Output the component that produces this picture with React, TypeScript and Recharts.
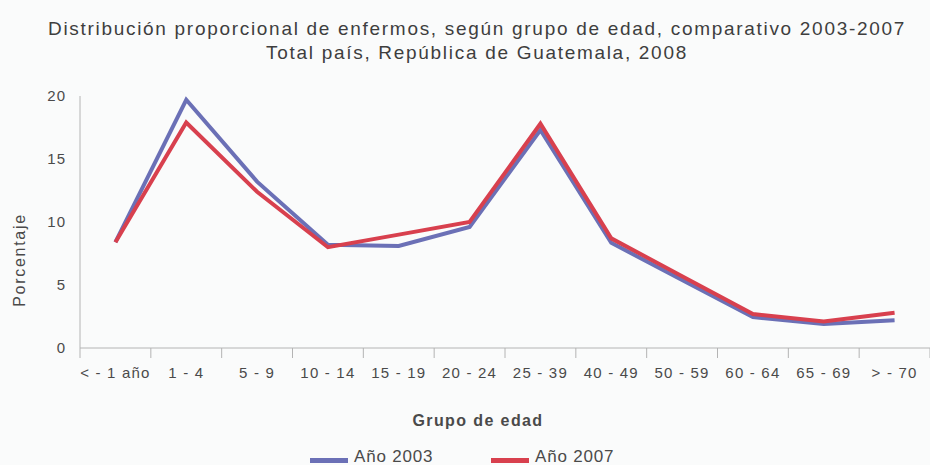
import { LineChart, Line, XAxis, YAxis } from 'recharts'

const ageGroups = [
  '< - 1 año', '1 - 4', '5 - 9', '10 - 14', '15 - 19', '20 - 24',
  '25 - 39', '40 - 49', '50 - 59', '60 - 64', '65 - 69', '> - 70',
]
const year2003 = [8.4, 19.7, 13.2, 8.2, 8.1, 9.6, 17.3, 8.35, 5.4, 2.45, 1.9, 2.2]
const year2007 = [8.4, 17.9, 12.4, 8.0, 9.0, 10.0, 17.8, 8.7, 5.7, 2.7, 2.1, 2.8]
const yTicks = [0, 5, 10, 15, 20]

const data = ageGroups.map((group, i) => ({
  group,
  y2003: year2003[i],
  y2007: year2007[i],
}))

const FONT = '"Liberation Sans", Arial, sans-serif'
const TEXT = '#4a4a4a'
const AXIS = '#b4b4b4'
const BLUE = '#6b70b6'
const RED = '#d8404e'

const W = 930
const H = 465
const PLOT_LEFT = 80

// tick marks sit between categories, labels in the middle
const AgeTick = (props: any) => {
  const { x, y, payload, index } = props
  const half = (W - PLOT_LEFT) / ageGroups.length / 2
  return (
    <g>
      <line x1={x - half} x2={x - half} y1={y} y2={y + 10} stroke={AXIS} />
      {index === ageGroups.length - 1 && (
        <line x1={x + half} x2={x + half} y1={y} y2={y + 10} stroke={AXIS} />
      )}
      <text
        x={x}
        y={y + 30}
        textAnchor="middle"
        fill={TEXT}
        fontSize={15}
        letterSpacing={1.2}
        fontFamily={FONT}
      >
        {payload.value}
      </text>
    </g>
  )
}

const LegendItem = ({ color, label, left }: { color: string; label: string; left: number }) => (
  <div style={{ position: 'absolute', left, top: 447, display: 'flex', alignItems: 'center', gap: 6 }}>
    <div style={{ width: 38, height: 5, backgroundColor: color, marginTop: 6 }} />
    <span style={{ fontSize: 17, color: TEXT, letterSpacing: 0.8 }}>{label}</span>
  </div>
)

export default function App() {
  return (
    <div style={{ position: 'absolute', left: 0, top: 0, width: W, height: H, background: '#fafbfb', fontFamily: FONT, overflow: 'hidden' }}>
      <div style={{
        position: 'absolute', left: 0, top: 17, width: 954, textAlign: 'center',
        fontSize: 19, lineHeight: '24px', color: '#3e3e3e', letterSpacing: 1.7,
      }}>
        Distribución proporcional de enfermos, según grupo de edad, comparativo 2003-2007
        <br />
        Total país, República de Guatemala, 2008
      </div>

      <div style={{
        position: 'absolute', left: 20, top: 260, width: 0, height: 0,
      }}>
        <div style={{
          position: 'absolute', left: -60, top: -10, width: 120, textAlign: 'center',
          transform: 'rotate(-90deg)', fontSize: 16, lineHeight: '20px',
          color: TEXT, letterSpacing: 1.7, whiteSpace: 'nowrap',
        }}>
          Porcentaje
        </div>
      </div>

      <LineChart
        width={W}
        height={H}
        data={data}
        margin={{ top: 96, right: 0, bottom: 0, left: 0 }}
        style={{ position: 'absolute', left: 0, top: 0 }}
      >
        <XAxis
          dataKey="group"
          scale="band"
          height={117}
          tickSize={0}
          tickMargin={0}
          tickLine={false}
          axisLine={{ stroke: AXIS }}
          tick={<AgeTick />}
          interval={0}
        />
        <YAxis
          width={PLOT_LEFT}
          domain={[0, 20]}
          ticks={yTicks}
          tickLine={false}
          tickSize={0}
          tickMargin={14}
          axisLine={{ stroke: AXIS }}
          tick={{ fill: TEXT, fontSize: 15, fontFamily: FONT, letterSpacing: 1 }}
        />
        <Line
          dataKey="y2003"
          stroke={BLUE}
          strokeWidth={4}
          dot={false}
          isAnimationActive={false}
        />
        <Line
          dataKey="y2007"
          stroke={RED}
          strokeWidth={4}
          dot={false}
          isAnimationActive={false}
        />
      </LineChart>

      <div style={{
        position: 'absolute', left: 0, top: 412, width: 956, textAlign: 'center',
        fontSize: 16, fontWeight: 'bold', color: TEXT, letterSpacing: 1.4,
      }}>
        Grupo de edad
      </div>

      <LegendItem color={BLUE} label="Año 2003" left={310} />
      <LegendItem color={RED} label="Año 2007" left={491} />
    </div>
  )
}
